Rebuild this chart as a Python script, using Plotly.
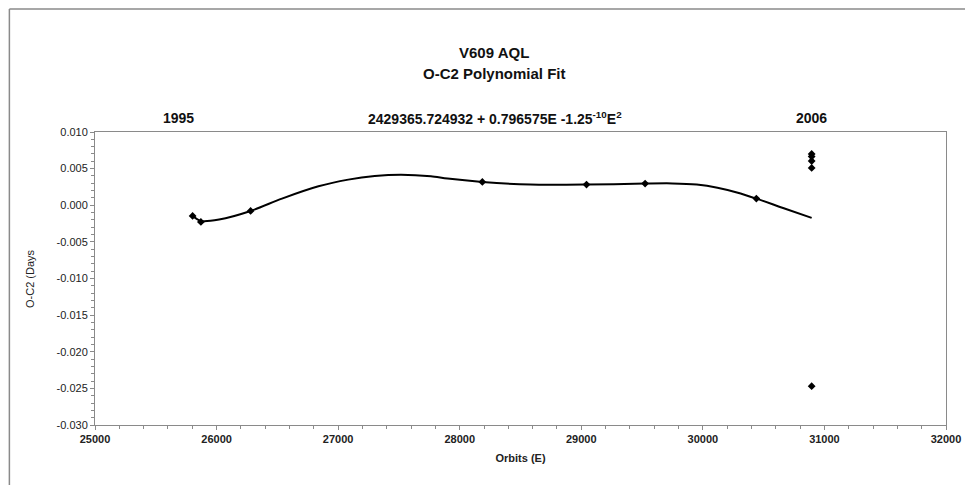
import plotly.graph_objects as go

# Observed O-C2 timings (orbit number E, O-C2 in days)
obs_E = [25803, 25871, 26280, 28186, 29043, 29525, 30440, 30895, 30895, 30895, 30895, 30895]
obs_oc = [-0.00146, -0.00228, -0.00078, 0.00318, 0.00282, 0.00296, 0.00091,
          0.00700, 0.00665, 0.00604, 0.00510, -0.02470]

# Polynomial fit curve
fit_E = [25803, 25871, 26021, 26280, 26538, 26838, 27083, 27301, 27518, 27763,
         27900, 28186, 28580, 29043, 29525, 29750, 29950, 30120, 30280, 30440, 30660, 30895]
fit_oc = [-0.00146, -0.00214, -0.00195, -0.00078, 0.00091, 0.00259, 0.00350, 0.00400,
          0.00418, 0.00396, 0.00364, 0.00318, 0.00282, 0.00282, 0.00296, 0.00298,
          0.00282, 0.00240, 0.00175, 0.00091, -0.00038, -0.00173]

y_tickvals = [0.010, 0.005, 0.000, -0.005, -0.010, -0.015, -0.020, -0.025, -0.030]
y_ticktext = ["0.010", "0.005", "0.000", "-0.005", "-0.010", "-0.015", "-0.020", "-0.025", "-0.030"]
x_tickvals = [25000, 26000, 27000, 28000, 29000, 30000, 31000, 32000]

FONT = "Liberation Sans, Arial, sans-serif"
AXC = "#8a8a8a"

fig = go.Figure()
fig.add_trace(go.Scatter(x=fit_E, y=fit_oc, mode="lines",
                         line=dict(color="black", width=2, shape="spline", smoothing=0.8),
                         hoverinfo="skip", showlegend=False))
fig.add_trace(go.Scatter(x=obs_E, y=obs_oc, mode="markers",
                         marker=dict(symbol="diamond", size=6, color="black"),
                         showlegend=False))

fig.update_layout(
    width=965, height=477,
    margin=dict(l=87, r=21, t=124, b=60),
    paper_bgcolor="white", plot_bgcolor="white",
    font=dict(family=FONT, color="#222"),
    xaxis=dict(range=[25000, 32000], tickvals=x_tickvals, tickformat="d",
               showgrid=False, zeroline=False, showline=True, linecolor=AXC, linewidth=1,
               mirror=True, ticks="outside", ticklen=4, tickcolor=AXC,
               minor=dict(dtick=200, ticks="outside", ticklen=3, tickcolor=AXC),
               tickfont=dict(size=11, family=FONT, color="#222", weight="bold"),
               title=dict(text="Orbits (E)", font=dict(size=11, family=FONT, color="#222", weight="bold"),
                          standoff=10)),
    yaxis=dict(range=[-0.030, 0.010], tickvals=y_tickvals, ticktext=y_ticktext,
               showgrid=False, zeroline=False, showline=True, linecolor=AXC, linewidth=1,
               mirror=True, ticks="outside", ticklen=4, tickcolor=AXC,
               minor=dict(dtick=0.001, ticks="outside", ticklen=3, tickcolor=AXC),
               tickfont=dict(size=11, family=FONT, color="#222")),
)

ann_font_big = dict(size=15, family=FONT, color="#111", weight="bold")
ann_font_mid = dict(size=14, family=FONT, color="#111", weight="bold")
fig.add_annotation(text="V609 AQL", x=0.469, y=1.273, xref="paper", yref="paper",
                   showarrow=False, font=ann_font_big, xanchor="center", yanchor="middle")
fig.add_annotation(text="O-C2 Polynomial Fit", x=0.470, y=1.201, xref="paper", yref="paper",
                   showarrow=False, font=ann_font_big, xanchor="center", yanchor="middle")
fig.add_annotation(text="1995", x=0.098, y=1.048, xref="paper", yref="paper",
                   showarrow=False, font=ann_font_mid, xanchor="center", yanchor="middle")
fig.add_annotation(text="2429365.724932 + 0.796575E -1.25<sup>-10</sup>E<sup>2</sup>",
                   x=0.470, y=1.048, xref="paper", yref="paper",
                   showarrow=False, font=ann_font_mid, xanchor="center", yanchor="middle")
fig.add_annotation(text="2006", x=0.8425, y=1.048, xref="paper", yref="paper",
                   showarrow=False, font=ann_font_mid, xanchor="center", yanchor="middle")
fig.add_annotation(text="O-C2 (Days", x=-0.077, y=0.5, xref="paper", yref="paper",
                   textangle=-90, showarrow=False, font=dict(size=11, family=FONT, color="#222"),
                   xanchor="center", yanchor="middle")

# Outer chart frame (left and top edges visible)
fig.add_shape(type="line", xref="paper", yref="paper", x0=-0.1006, x1=-0.1006, y0=-0.3, y1=1.4198,
              line=dict(color=AXC, width=1.5))
fig.add_shape(type="line", xref="paper", yref="paper", x0=-0.1006, x1=1.05, y0=1.4198, y1=1.4198,
              line=dict(color=AXC, width=1.5))

fig.write_html("out.html")
